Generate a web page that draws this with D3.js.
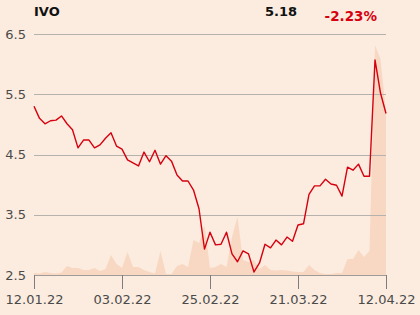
<!DOCTYPE html>
<html>
<head>
<meta charset="utf-8">
<script src="https://cdn.jsdelivr.net/npm/d3@7"></script>
<style>
  html, body { margin: 0; padding: 0; background: #fbecdf; }
  svg { display: block; font-family: "DejaVu Sans", sans-serif; }
</style>
</head>
<body>
<div id="chart"></div>
<script>
// trading days shown on the chart
const dates = [
  "12.01.22","13.01.22","14.01.22","17.01.22","18.01.22","19.01.22","20.01.22","21.01.22","24.01.22","25.01.22","26.01.22","27.01.22","28.01.22","31.01.22",
  "01.02.22","02.02.22","03.02.22","04.02.22","07.02.22","08.02.22","09.02.22","10.02.22","11.02.22","14.02.22","15.02.22","16.02.22","17.02.22","18.02.22","21.02.22","22.02.22","23.02.22","24.02.22","25.02.22","28.02.22",
  "01.03.22","02.03.22","03.03.22","04.03.22","07.03.22","08.03.22","09.03.22","10.03.22","11.03.22","14.03.22","15.03.22","16.03.22","17.03.22","18.03.22","21.03.22","22.03.22","23.03.22","24.03.22","25.03.22","28.03.22","29.03.22","30.03.22","31.03.22",
  "01.04.22","04.04.22","05.04.22","06.04.22","07.04.22","08.04.22","11.04.22","12.04.22"
];

const prices = [
  5.30, 5.10, 5.01, 5.06, 5.07, 5.14, 5.01, 4.91, 4.61, 4.74, 4.74, 4.61, 4.66, 4.77, 4.86, 4.64,
  4.59, 4.41, 4.36, 4.31, 4.54, 4.38, 4.57, 4.34, 4.48, 4.39, 4.16, 4.06, 4.06, 3.91, 3.60, 2.93,
  3.21, 3.00, 3.01, 3.21, 2.85, 2.72, 2.90, 2.85, 2.55, 2.70, 3.01, 2.95, 3.08, 3.00, 3.13, 3.06,
  3.33, 3.35, 3.84, 3.98, 3.98, 4.09, 4.01, 3.99, 3.81, 4.29, 4.24, 4.34, 4.14, 4.14, 6.07, 5.52,
  5.18
];

// traded volume, thousands
const volumes = [
  2, 1.5, 3, 2, 1.5, 2.5, 9, 7, 7, 5, 5, 7, 4, 6, 20, 11,
  7, 23, 8, 8, 5, 3, 1.5, 24, 1, 1, 9, 11, 8, 35, 32, 50,
  7, 8, 11, 8, 38, 58, 15, 13, 15, 6, 10, 5, 4.5, 5, 4.5, 3.5,
  3, 3, 10, 5, 2, 1, 1, 2, 2, 16, 16, 25, 18, 24, 230, 216,
  162
];

const yTicks = [2.5, 3.5, 4.5, 5.5, 6.5];
const xTickLabels = ["12.01.22", "03.02.22", "25.02.22", "21.03.22", "12.04.22"];

const title = "IVO";
const lastPrice = "5.18";
const change = "-2.23%";

const width = 420, height = 315;
const margin = { left: 34, right: 386, top: 34, bottom: 275 };

const svg = d3.select("#chart").append("svg")
  .attr("width", width)
  .attr("height", height);

svg.append("rect")
  .attr("width", width)
  .attr("height", height)
  .attr("fill", "#fbecdf");

const x = d3.scalePoint().domain(dates).range([margin.left, margin.right]);
const y = d3.scaleLinear().domain([2.5, 6.5]).range([margin.bottom, margin.top]);
const yVol = d3.scaleLinear().domain([0, 241]).range([margin.bottom, margin.top]);

// volume area
svg.append("path")
  .datum(volumes)
  .attr("fill", "#f8d8c2")
  .attr("d", d3.area()
    .x((d, i) => x(dates[i]))
    .y0(yVol(0))
    .y1(d => yVol(d)));

// grid
svg.append("g")
  .selectAll("line")
  .data(yTicks)
  .enter()
  .append("line")
  .attr("x1", margin.left)
  .attr("x2", margin.right)
  .attr("y1", d => Math.round(y(d)) + 0.5)
  .attr("y2", d => Math.round(y(d)) + 0.5)
  .attr("stroke", d => d === 2.5 ? "#9d9a97" : "#b5b1ad")
  .attr("stroke-width", 1);

svg.append("g")
  .selectAll("text")
  .data(yTicks)
  .enter()
  .append("text")
  .attr("x", 26)
  .attr("y", d => y(d))
  .attr("dy", "0.36em")
  .attr("text-anchor", "end")
  .attr("font-size", 13)
  .attr("fill", "#4a4a4a")
  .text(d => d3.format(".1f")(d));

// x axis ticks
const xAxis = svg.append("g")
  .attr("transform", "translate(0," + margin.bottom + ")")
  .call(d3.axisBottom(x).tickValues(xTickLabels).tickSize(14).tickSizeOuter(0));
xAxis.select(".domain").remove();
xAxis.selectAll(".tick line").attr("stroke", "#7f7c79");
xAxis.selectAll(".tick text")
  .attr("y", 20)
  .attr("dy", "0.71em")
  .attr("font-size", 13)
  .attr("font-family", "DejaVu Sans, sans-serif")
  .attr("fill", "#4a4a4a");

// price line
svg.append("path")
  .datum(prices)
  .attr("fill", "none")
  .attr("stroke", "#d6000f")
  .attr("stroke-width", 1.4)
  .attr("stroke-linejoin", "round")
  .attr("d", d3.line()
    .x((d, i) => x(dates[i]))
    .y(d => y(d)));

// header
svg.append("text")
  .attr("x", 34)
  .attr("y", 15.5)
  .attr("font-size", 13)
  .attr("font-weight", "bold")
  .attr("fill", "#111")
  .text(title);

svg.append("text")
  .attr("x", 297)
  .attr("y", 15.5)
  .attr("text-anchor", "end")
  .attr("font-size", 13)
  .attr("font-weight", "bold")
  .attr("fill", "#111")
  .text(lastPrice);

svg.append("text")
  .attr("x", 377)
  .attr("y", 21)
  .attr("text-anchor", "end")
  .attr("font-size", 13.5)
  .attr("font-weight", "bold")
  .attr("fill", "#d6000f")
  .text(change);
</script>
</body>
</html>
